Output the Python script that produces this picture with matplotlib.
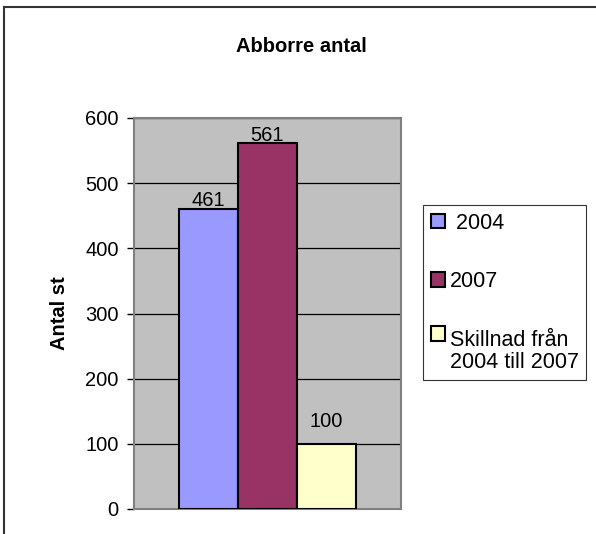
import matplotlib.pyplot as plt
from matplotlib.lines import Line2D

plt.rcParams['font.family'] = ['Liberation Sans', 'DejaVu Sans']

# data
series_labels = [' 2004', '2007', 'Skillnad från\n2004 till 2007']
values = [461, 561, 100]
bar_colors = ['#9999FF', '#993366', '#FFFFCC']
y_ticks = [0, 100, 200, 300, 400, 500, 600]

W, H = 596, 534
fig = plt.figure(figsize=(W / 100, H / 100), dpi=100)

# outer chart frame (only top and left edges visible)
fig.add_artist(Line2D([4 / W, 1], [1 - 7 / H, 1 - 7 / H], color='#333333', lw=1.5))
fig.add_artist(Line2D([4 / W, 4 / W], [0, 1 - 7 / H], color='#333333', lw=1.5))

ax = fig.add_axes([134 / W, 1 - 509 / H, (401 - 134) / W, (509 - 118) / H])
ax.set_facecolor('#C0C0C0')

for i, (lab, v, c) in enumerate(zip(series_labels, values, bar_colors)):
    ax.bar(i, v, width=1.0, color=c, edgecolor='black', linewidth=1.5,
           label=lab, zorder=3)

# value labels
label_pad = [1.5, 1.5, 12]
for i, v in enumerate(values):
    ax.annotate(str(v), (i, v), xytext=(0, label_pad[i]), textcoords='offset points',
                ha='center', va='baseline', fontsize=14.5, zorder=4)

ax.set_xlim(-1.263, 3.263)
ax.set_ylim(0, 600)
ax.set_yticks(y_ticks)
ax.set_xticks([])
ax.tick_params(axis='y', direction='out', length=5, width=1, labelsize=14.5, pad=6)
ax.yaxis.grid(True, color='black', linewidth=0.9)
ax.set_axisbelow(True)
for s in ax.spines.values():
    s.set_color('#808080')
    s.set_linewidth(1.5)

ax.set_ylabel('Antal st', fontsize=14.5, fontweight='bold', labelpad=12)

fig.text(301 / W, 1 - 47 / H, 'Abborre antal', ha='center', va='center',
         fontsize=14.5, fontweight='bold')

leg = fig.legend(loc='upper left', bbox_to_anchor=(423 / W, 1 - 205 / H),
                 borderaxespad=0, fontsize=15.5, frameon=True, fancybox=False,
                 edgecolor='black', labelspacing=1.75, handlelength=0.65,
                 handleheight=0.65, handletextpad=0.25, borderpad=0.35)
leg.get_frame().set_linewidth(0.8)
for t in leg.get_texts():
    t.set_linespacing(1.05)
# put the last handle beside the first text line, as in the original
h = leg.legend_handles[2]
h.set_y(h.get_y() + 13)

fig.savefig('out.png', dpi=100)
